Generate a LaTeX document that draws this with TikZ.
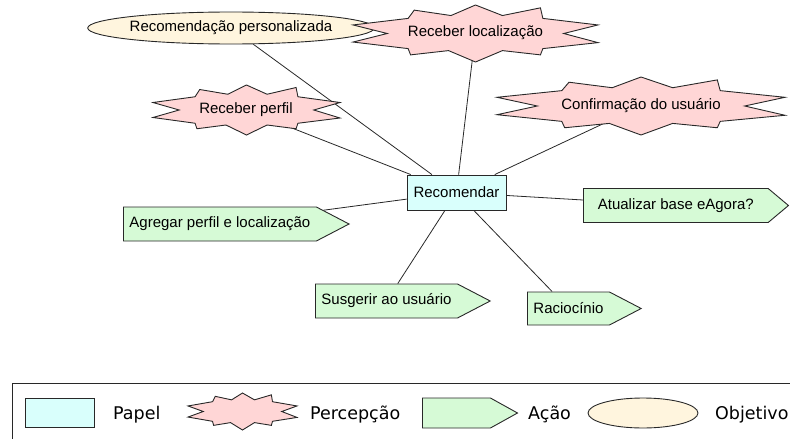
\documentclass[tikz,border=0pt]{standalone}
\usepackage{fontspec}
\setmainfont{Liberation Sans}
\newfontfamily\legendfont{DejaVu Sans}
\usepackage{tikz}
\usepackage{xcolor}
\usetikzlibrary{shapes.symbols, shapes.geometric, positioning, backgrounds}
\definecolor{papelcyan}{RGB}{217, 255, 252}
\definecolor{percpink}{RGB}{255, 214, 214}
\definecolor{acaogreen}{RGB}{214, 250, 214}
\definecolor{objcream}{RGB}{255, 245, 222}
\definecolor{edgegray}{RGB}{40, 40, 40}
\tikzset{
    basenode/.style={draw=edgegray, line width=0.9pt, font=\fontsize{15}{18}\selectfont, inner sep=0pt},
    papelnode/.style={basenode, rectangle, fill=papelcyan, minimum width=99pt, minimum height=35pt},
    perctext/.style={font=\fontsize{15}{18}\selectfont, inner sep=0pt},
    percshape/.style={draw=edgegray, line width=0.9pt, fill=percpink, line join=miter},
    acaonode/.style={basenode, signal, signal to=east, signal pointer angle=55, fill=acaogreen, inner xsep=6pt, minimum height=34pt},
    objnode/.style={basenode, ellipse, fill=objcream},
    legtext/.style={font=\legendfont\fontsize{17.5}{20}\selectfont, inner sep=0pt, anchor=base west},
    link/.style={draw=edgegray, line width=0.8pt}
}
% star outline: center, x radius, y radius
\newcommand{\percstar}[3]{%
    \draw[percshape, shift={#1}] (1*#2, -0.3*#3)
        \foreach \px/\py in {0.72/0, 1/0.32, 0.55/0.53, 0.53/0.75, 0.22/0.6, 0/1, -0.22/0.6,
            -0.53/0.75, -0.55/0.53, -1/0.3, -0.72/0, -1/-0.3, -0.55/-0.53, -0.5/-0.82,
            -0.2/-0.63, 0/-1, 0.22/-0.63, 0.53/-0.9, 0.55/-0.53}
            {-- (\px*#2, \py*#3)} -- cycle;}

\begin{document}
\begin{tikzpicture}[x=1pt, y=-1pt]
    \useasboundingbox (0,0) rectangle (790,439);
    % papel
    \node[papelnode] (rec) at (456.5,192.5) {Recomendar};
    % objetivo
    \node[objnode, minimum width=248pt, minimum height=32pt] (obj) at (231,28) {Recomendação personalizada};
    % percepcoes
    \percstar{(475.5,33.5)}{122.5}{28.5}
    \node[perctext] (loc) at (475.5,33) {Receber localização};
    \percstar{(246.5,110)}{93.5}{25}
    \node[perctext] (perfil) at (246,110) {Receber perfil};
    \percstar{(641,106)}{144}{29}
    \node[perctext] (conf) at (641,106) {Confirmação do usuário};
    % acoes
    \node[acaonode, anchor=west, minimum width=205pt, signal pointer angle=80] (atual) at (583,205.5) {Atualizar base eAgora?};
    \node[acaonode, anchor=west] (agreg) at (123,224) {Agregar perfil e localização};
    \node[acaonode, anchor=west] (sugere) at (315,301) {Susgerir ao usuário};
    \node[acaonode, anchor=west, minimum height=33pt] (racioc) at (527,308.5) {Raciocínio};
    \begin{scope}[on background layer]
        \foreach \n in {obj, loc, perfil, conf, atual, agreg, sugere, racioc}
            \draw[link] (rec) -- (\n);
    \end{scope}
    % legenda
    \draw[edgegray, line width=0.9pt] (790,383) -- (12,383) -- (12,439);
    \node[papelnode, minimum width=69pt, minimum height=29pt] (lpapel) at (59.5,412.5) {};
    \node[legtext] (tpapel) at (113,419) {Papel};
    \percstar{(242.5,411.5)}{54.5}{18.5}
    \node[legtext] (tperc) at (310,419) {Percepção};
    \node[acaonode, anchor=west, inner xsep=34pt, minimum height=30pt, signal pointer angle=58] (lacao) at (422,413) {};
    \node[legtext] (tacao) at (528,419) {Ação};
    \node[objnode, minimum width=110pt, minimum height=30pt] (lobj) at (643,413) {};
    \node[legtext] (tobj) at (715,419) {Objetivo};
\end{tikzpicture}
\end{document}
